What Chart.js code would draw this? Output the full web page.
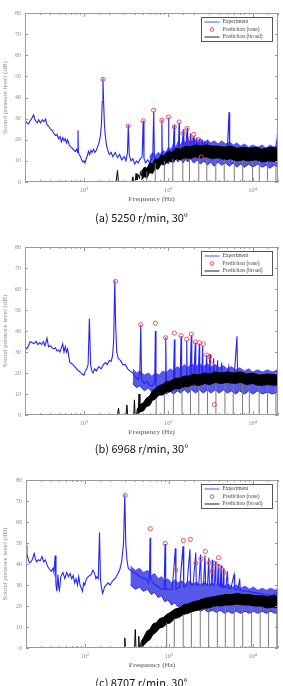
<!DOCTYPE html>
<html>
<head>
<meta charset="utf-8">
<script src="https://cdn.jsdelivr.net/npm/chart.js@4"></script>
<style>
  body { margin: 0; width: 283px; height: 686px; background: #fff; position: relative; overflow: hidden; }
  .panel { position: absolute; left: 0; width: 283px; }
  .cap { position: absolute; left: 0; width: 283px; text-align: center; font: 11px "Noto Sans CJK KR", sans-serif; color: #111; line-height: 16px; }
</style>
</head>
<body>
<div class="panel" style="top:0;height:228px"><canvas id="chartA"></canvas></div>
<div class="cap" style="top:209px">(a) 5250 r/min, 30°</div>
<div class="panel" style="top:228px;height:228px"><canvas id="chartB"></canvas></div>
<div class="cap" style="top:440px">(b) 6968 r/min, 30°</div>
<div class="panel" style="top:456px;height:230px"><canvas id="chartC"></canvas></div>
<div class="cap" style="top:674px">(c) 8707 r/min, 30°</div>
<script>
// tick labels
const xTickLabels = { 100: '10²', 1000: '10³', 10000: '10⁴' };

// (a) 5250 r/min -- [Hz, dB]
const expA = [[20,29.5],[21,28],[22,27.5],[23,29],[24,30],[25.3,31.8],[26.5,29],[28,28],[29,29.5],[30.5,28],[32,29.5],[33.5,28.5],[35,29.8],[36.5,27],[38,26.5],[40,25],[42,24.5],[44,23],[46,22],[48,22.5],[50,20.5],[52,21.5],[54,19],[56,21],[58,19.5],[60,20.5],[62,18.5],[64,20],[67,17.5],[70,16.5],[73,16],[76,15],[79,14.5],[82,15.5],[84,14],[85,24.5],[86,14],[88,13],[91,12],[94,10.5],[97,9.5],[100,10],[103,9],[106,11],[110,12.5],[113,14.5],[117,13],[121,15],[125,14],[130,15.5],[135,14],[140,15],[146,17],[152,19],[157,22],[161,27],[165,38],[168,49],[171,38],[175,27],[180,21],[186,17],[192,15],[200,13],[210,14],[220,12],[235,14],[250,11.5],[265,13],[280,10.5],[300,12],[315,10],[328,14],[336,27],[344,13],[360,10],[380,11],[400,8.5],[420,10],[440,9],[465,11],[490,12],[504,29],[515,11],[540,9],[570,10.5],[600,9],[630,11],[655,13],[672,33.5],[685,12],[720,10],[760,11],[800,12],[830,14],[840,29.5],[850,12],[900,13],[950,14],[1000,15],[1008,30.5],[1016,14],[1080,15],[1140,15],[1176,27],[1190,15],[1260,16],[1320,16],[1344,28],[1360,16],[1450,16],[1512,25],[1530,16],[1600,16],[1680,25.5],[1700,16],[1780,16],[1848,23],[1870,16],[1950,16],[2016,22],[2040,16],[2100,16],[2184,21],[2210,15.5],[2300,16],[2352,20.5],[2380,15.5],[2450,15],[2530,20],[2560,15],[2650,15],[2720,19.5],[2750,15],[2850,15],[2930,19],[2960,15],[3100,15],[3300,14.5],[3500,14.5],[3800,14],[4200,14],[4600,14],[5000,14],[5250,33],[5350,14],[6000,13.5],[7000,13],[8000,13],[9000,13],[10000,13],[12000,13],[14000,12.5],[16000,12.5],[18000,13],[19500,20],[20000,27]];
const expLowA = [[600,8],[650,6],[700,9],[760,7],[820,10],[870,8],[940,10],[1000,8.5],[1080,11],[1150,9],[1230,11],[1300,9.5],[1400,11],[1500,9],[1600,11],[1700,9.5],[1850,11],[2000,9],[2200,10.5],[2400,8.5],[2650,10],[2900,8],[3200,9.5],[3500,7.5],[3900,9.5],[4300,8],[4800,9],[5300,7.5],[5900,9],[6500,7],[7200,8.5],[8000,7],[9000,8.5],[10000,7],[11500,8.5],[13000,7],[14500,8],[16000,6.5],[18000,8],[20000,7]];
const expHighA = [[600,12],[650,14],[700,12.5],[760,14],[820,13],[870,15],[940,14],[1000,16.5],[1080,15.5],[1150,18],[1230,16.5],[1300,19],[1400,17.5],[1500,20],[1600,18.5],[1700,20.5],[1850,19],[2000,21],[2200,19],[2400,20.5],[2650,18.5],[2900,20],[3200,18.5],[3500,19.5],[3900,18],[4300,19.5],[4800,18],[5300,19],[5900,17.5],[6500,18.5],[7200,17],[8000,18],[9000,16.5],[10000,17.5],[11500,16.5],[13000,17.5],[14500,16],[16000,17.5],[18000,16.5],[20000,18]];
const broadA = [[240,0],[250,5.5],[256,0],[370,0],[380,2.5],[388,0],[405,0],[415,4],[425,1],[440,3.5],[455,1.5],[470,5],[485,3],[500,4]];
const broadLowA = [[480,1],[520,2.5],[560,2],[600,4.5],[650,4],[700,6.5],[760,6],[820,8.5],[900,8],[1000,10],[1100,9.5],[1250,11],[1400,10.5],[1600,11.5],[1800,11],[2100,12],[2400,11],[2800,12],[3300,11],[3900,11.5],[4600,10.5],[5500,11],[6500,10],[7800,10.5],[9000,10],[11000,10.5],[13000,9.5],[16000,10],[20000,9.5]];
const broadHighA = [[480,5],[520,7],[560,6.5],[600,9],[650,8.5],[700,11],[760,10.5],[820,12.5],[900,12.5],[1000,14.5],[1100,14],[1250,16],[1400,15.5],[1600,17],[1800,16.5],[2100,17.5],[2400,17],[2800,17.5],[3300,17],[3900,17],[4600,16.5],[5500,17],[6500,16],[7800,16.5],[9000,16],[11000,16.5],[13000,15.5],[16000,16.5],[20000,16]];
const dipsA = [[556,5],[700,9],[898,10],[1131,11],[1487,11],[1783,11],[2298,11],[2860,11],[3661,11],[4608,11],[6057,10],[7630,10],[9998,10],[12000,10],[15000,10],[18900,10]];
const toneA = [[168,48.6],[336,26.5],[504,29],[670,34],[840,29.2],[1005,30.7],[1180,26.1],[1345,28.4],[1500,23],[1670,25.3],[1830,20.6],[2005,22.5],[2310,20],[2460,11.8]];

// (b) 6968 r/min
const expB = [[20,32.5],[21,31.5],[22,33],[23,35],[24,34.5],[25.5,34],[27,35],[28.5,33.5],[30,34.5],[31.5,33.5],[33,35],[34.5,33],[36.5,36.5],[38,32.5],[40,33],[42,32],[44,31.5],[46,32],[48,30.5],[50,31],[52,30],[54,32],[56,34],[58,30],[60,32.5],[62,30],[64,31.5],[66,28],[68,25],[71,24.5],[74,24],[78,23],[82,22],[86,21],[90,20.5],[95,19.5],[100,19],[104,21],[108,22],[112,24],[116,46],[120,24],[124,21],[128,20],[134,22],[140,21],[150,23],[160,22],[170,24],[180,25],[190,24],[200,26],[210,25.5],[218,28],[225,35],[232,64],[238,42],[245,30],[255,27],[270,26],[290,24],[310,24],[330,22],[350,21],[380,20],[410,18],[440,17],[460,20],[472,43],[482,17],[520,15],[560,16],[600,14],[650,14],[690,16],[703,40],[715,14],[780,13],[850,14],[915,15],[933,37],[950,14],[1050,15],[1150,15],[1181,36],[1200,15],[1300,16],[1380,16],[1417,37.5],[1440,16],[1550,16],[1640,16],[1655,35.5],[1680,16],[1800,16],[1877,38],[1900,16],[2000,16],[2093,34.5],[2120,16],[2250,16],[2336,34],[2360,16],[2480,16],[2559,33],[2590,16],[2750,16],[2855,28.5],[2880,16],[3000,16],[3126,29],[3160,16],[3350,16],[3450,27],[3500,16],[3700,16],[3850,26],[3900,16],[4100,16],[4300,25],[4350,16],[4800,16],[5200,23],[5300,16],[6000,16],[6520,37.5],[6650,16],[7500,16],[9000,16],[11000,15.5],[14000,16],[17000,16],[19500,20],[20000,25.5]];
const expLowB = [[380,15],[420,13],[460,14],[520,11.5],[580,13],[640,11],[700,12],[780,10],[860,11.5],[950,10],[1050,11.5],[1150,10],[1280,11.5],[1400,10.5],[1550,12],[1700,10.5],[1900,12],[2100,10.5],[2350,12],[2600,10.5],[2900,12],[3200,10.5],[3600,12],[4000,10.5],[4500,12],[5000,10.5],[5600,11.5],[6300,10],[7000,11.5],[8000,10],[9000,11.5],[10000,10],[11500,11.5],[13000,10],[15000,11],[17000,10],[20000,11]];
const expHighB = [[380,22],[420,20],[460,21],[520,19],[580,20],[640,18.5],[700,20],[780,19],[860,21],[950,20],[1050,22],[1150,21],[1280,23],[1400,22],[1550,24],[1700,22.5],[1900,24.5],[2100,23],[2350,24.5],[2600,23],[2900,24.5],[3200,23],[3600,24],[4000,22.5],[4500,23.5],[5000,22],[5600,23],[6300,21.5],[7000,22.5],[8000,21],[9000,22],[10000,20.5],[11500,21.5],[13000,20.5],[15000,21.5],[17000,20.5],[20000,21.5]];
const broadB = [[250,0],[257,3.2],[262,0],[315,0],[323,4.8],[330,0],[390,0],[397,7.2],[404,0],[420,0],[430,3],[440,1],[450,10],[460,2],[470,5],[480,1.5],[500,4]];
const broadLowB = [[430,0.5],[470,1.5],[510,2],[550,4],[600,4.5],[650,7],[700,7.5],[780,9.5],[860,9.5],[950,11],[1050,11],[1200,12.5],[1350,12.5],[1550,13.5],[1750,13.5],[2000,14.5],[2300,14],[2700,15],[3100,14.5],[3600,15.5],[4200,15],[5000,15.5],[6000,15],[7200,15.5],[8500,14.5],[10000,15],[12000,14],[15000,14.5],[20000,14]];
const broadHighB = [[430,3],[470,5],[510,6],[550,8],[600,9],[650,11.5],[700,12.5],[780,14],[860,14.5],[950,16],[1050,16],[1200,17.5],[1350,17.5],[1550,18.5],[1750,18.5],[2000,19.5],[2300,19],[2700,20],[3100,19.5],[3600,20.5],[4200,20],[5000,20.5],[6000,20],[7200,20.5],[8500,19.5],[10000,20],[12000,19],[15000,19.5],[20000,19]];
const dipsB = [[718,8],[899,10],[1150,12],[1455,13],[1832,14],[2298,14],[2920,14],[3672,15],[4700,15],[5890,15],[7600,15],[9140,14],[11950,14],[15000,14],[18900,14]];
const toneB = [[237,63.6],[472,43],[703,43.7],[933,36.8],[1181,39],[1417,37.8],[1655,36.1],[1877,38.5],[2093,34.8],[2336,34.4],[2600,33.8],[2855,28.5],[3100,27.8],[3273,24.2],[3516,5]];

// (c) 8707 r/min
const expC = [[20,49],[20.5,45],[21,43],[22,40.5],[23,41],[24,42.5],[25,45],[26,42],[27,41],[28,42],[29.5,41.5],[31,43.5],[32.5,41],[34,42],[36,39],[38,37.5],[40,36.5],[42,38],[43,36],[44.5,44],[45.5,30],[46.5,27],[48,35],[49,29],[50,27.5],[52,34],[55,36],[58,33],[61,36],[64,34],[67,35.5],[70,33],[73,34.5],[76,31],[79,33],[82,30],[85,34],[88,30],[91,28.5],[94,27],[97,31],[100,30],[105,33],[110,34],[115,34.5],[120,35],[125,37],[130,36],[136,33],[140,34],[145,33],[150,55],[154,33],[158,29],[163,26],[167,27],[172,29],[180,30],[190,31],[200,30],[215,32],[230,33],[245,35],[260,37],[275,41],[290,50],[300,73],[308,50],[318,42],[330,38],[350,37],[380,36],[420,35],[460,34],[500,33],[540,33],[575,31],[590,35],[600,52.5],[610,33],[650,31],[700,30],[760,29],[820,28],[880,28],[905,49.5],[920,28],[1000,28],[1100,28],[1200,47.5],[1220,28],[1350,29],[1480,48.5],[1510,29],[1650,30],[1790,47],[1820,30],[1950,30],[2100,45.5],[2130,30],[2280,30],[2400,44.5],[2440,30],[2600,30],[2700,44],[2750,30],[2900,30],[3000,43],[3050,30],[3200,30],[3300,42],[3350,30],[3500,30],[3600,41],[3650,30],[3800,30],[3900,40],[3950,29.5],[4100,29.5],[4200,39],[4250,29],[4400,29],[4500,38],[4550,29],[4800,29],[5000,36.5],[5100,28.5],[5500,28.5],[6000,35],[6100,28],[6700,28],[7000,33],[7100,27.5],[8000,27],[9000,27],[10000,26.5],[12000,26],[14000,25.5],[17000,25],[19500,26],[20000,28]];
const expLowC = [[350,30],[400,28],[450,29],[500,27],[560,28],[620,25.5],[680,26.5],[750,24],[820,25],[900,22],[980,23],[1080,20.5],[1180,21.5],[1300,19.5],[1430,20.5],[1580,18.5],[1750,19.5],[1950,18],[2150,19],[2400,17.5],[2650,18.5],[2950,17],[3300,18],[3700,17],[4100,18],[4600,16.5],[5100,17.5],[5700,16.5],[6400,17.5],[7200,16.5],[8100,17.5],[9100,16.5],[10200,17.5],[11500,16.5],[13000,17.5],[14500,16.5],[16500,17.5],[18500,16.5],[20000,17]];
const expHighC = [[350,39],[400,37],[450,38],[500,36],[560,37],[620,34.5],[680,35.5],[750,33],[820,34],[900,32],[980,33],[1080,31],[1180,32.5],[1300,31],[1430,32],[1580,30.5],[1750,32],[1950,30.5],[2150,31.5],[2400,30],[2650,31.5],[2950,30],[3300,31],[3700,29.5],[4100,31],[4600,29.5],[5100,30.5],[5700,29],[6400,30],[7200,28.5],[8100,29.5],[9100,28],[10200,29],[11500,27.5],[13000,28.5],[14500,27.5],[16500,28.5],[18500,27.5],[20000,28.5]];
const broadC = [[295,0],[300,4.8],[306,0],[392,0],[400,8.8],[408,0],[432,0],[440,5.6],[448,0],[460,1],[470,3]];
const broadLowC = [[470,0.5],[510,1.5],[550,3],[600,4],[650,6.5],[710,7.5],[780,9.5],[860,10],[950,11.5],[1050,12],[1180,14],[1320,14.5],[1500,16],[1700,16.5],[1950,17.5],[2250,18],[2600,19],[3000,19],[3500,20],[4100,20],[4800,20.5],[5600,20.5],[6500,21],[7600,20.5],[9000,20.5],[10500,20],[12500,20],[15000,19],[17500,19.5],[20000,19]];
const broadHighC = [[470,3],[510,5.5],[550,8],[600,9],[650,11.5],[710,12],[780,14],[860,14.5],[950,16],[1050,17],[1180,18.5],[1320,19],[1500,20.5],[1700,21],[1950,22],[2250,22.5],[2600,23.5],[3000,24],[3500,24.5],[4100,25],[4800,25.5],[5600,25.5],[6500,26],[7600,25.5],[9000,25.5],[10500,25],[12500,25],[15000,24.5],[17500,25],[20000,24.5]];
const dipsC = [[945,12],[1165,14],[1487,16],[1862,17],[2375,18],[2987,19],[3795,20],[4723,20],[6020,20],[7600,20],[9700,20],[12270,19],[15400,19],[19400,19]];
const toneC = [[303,72.7],[604,56.8],[909,49.8],[1214,37.1],[1496,51.2],[1810,51.7],[2114,40.3],[2424,42.5],[2728,46],[3016,40.6],[3297,36.6],[3579,40.3],[3918,43],[4139,38.5],[4540,35.8]];

function pts(arr) { return arr.map(p => ({ x: p[0], y: p[1] })); }
function dipPts(arr) {
  const out = [];
  arr.forEach(p => { out.push({ x: p[0], y: 0 }, { x: p[0], y: p[1] }, { x: p[0], y: null }); });
  return out;
}

// frame, inward ticks and the boxed legend
const framePlugin = {
  id: 'frame',
  afterDraw(chart) {
    const { ctx, chartArea: a, scales: { x, y } } = chart;
    ctx.save();
    ctx.strokeStyle = '#9a9a9a';
    ctx.lineWidth = 1;
    ctx.strokeRect(a.left + 0.5, a.top + 0.5, a.width - 1, a.height - 1);
    ctx.beginPath();
    x.ticks.forEach(t => {
      const px = Math.round(x.getPixelForValue(t.value)) + 0.5;
      const len = xTickLabels[t.value] ? 4 : 2;
      ctx.moveTo(px, a.bottom); ctx.lineTo(px, a.bottom - len);
      ctx.moveTo(px, a.top); ctx.lineTo(px, a.top + len);
    });
    y.ticks.forEach(t => {
      const py = Math.round(y.getPixelForValue(t.value)) + 0.5;
      ctx.moveTo(a.left, py); ctx.lineTo(a.left + 3, py);
      ctx.moveTo(a.right, py); ctx.lineTo(a.right - 3, py);
    });
    ctx.stroke();

    // legend
    const bx = Math.round(a.right - 77) + 0.5, by = Math.round(a.top + 4) + 0.5;
    ctx.fillStyle = '#fff';
    ctx.fillRect(bx, by, 71, 24);
    ctx.strokeStyle = '#555';
    ctx.strokeRect(bx, by, 71, 24);
    ctx.font = '5.5px "Liberation Serif", serif';
    ctx.textBaseline = 'middle';
    ctx.fillStyle = '#444';
    const rows = [[4.5, 'Experiment'], [12, 'Prediction (tone)'], [19.5, 'Prediction (broad)']];
    rows.forEach((r, i) => {
      const ry = by + r[0];
      if (i === 0) { ctx.strokeStyle = '#5050ff'; ctx.beginPath(); ctx.moveTo(bx + 3, ry); ctx.lineTo(bx + 18, ry); ctx.stroke(); }
      if (i === 1) { ctx.strokeStyle = '#e0505a'; ctx.beginPath(); ctx.arc(bx + 10.5, ry, 1.8, 0, Math.PI * 2); ctx.stroke(); }
      if (i === 2) { ctx.strokeStyle = '#222'; ctx.beginPath(); ctx.moveTo(bx + 3, ry); ctx.lineTo(bx + 18, ry); ctx.stroke(); }
      ctx.fillText(r[1], bx + 21, ry);
    });
    ctx.restore();
  }
};

function makeChart(id, box, s) {
  return new Chart(document.getElementById(id), {
    type: 'line',
    data: {
      datasets: [
        { label: 'Prediction (tone)', data: pts(s.tone), showLine: false, pointRadius: 2.1, pointBorderWidth: 1,
          pointBorderColor: '#e8505c', pointBackgroundColor: 'rgba(0,0,0,0)' },
        { label: 'dips', data: dipPts(s.dips), borderColor: '#7a7a7a', borderWidth: 1, pointRadius: 0, spanGaps: false },
        { label: 'Prediction (broad)', data: pts(s.broad), borderColor: '#000', borderWidth: 1, pointRadius: 0 },
        { label: 'broad high', data: pts(s.broadHigh), borderColor: '#000', borderWidth: 1, pointRadius: 0,
          fill: 4, backgroundColor: '#000' },
        { label: 'broad low', data: pts(s.broadLow), borderColor: '#000', borderWidth: 1, pointRadius: 0 },
        { label: 'Experiment', data: pts(s.exp), borderColor: '#2626f0', borderWidth: 1.1, pointRadius: 0 },
        { label: 'exp high', data: pts(s.expHigh), borderColor: 'rgba(70,70,245,0.8)', borderWidth: 1, pointRadius: 0,
          fill: 7, backgroundColor: 'rgba(40,40,225,0.78)' },
        { label: 'exp low', data: pts(s.expLow), borderColor: '#2a2ae8', borderWidth: 1, pointRadius: 0 }
      ]
    },
    options: {
      responsive: true,
      maintainAspectRatio: false,
      animation: false,
      layout: { padding: { top: box.top, right: 5, left: 0, bottom: box.padBottom } },
      plugins: { legend: { display: false }, tooltip: { enabled: false } },
      elements: { line: { tension: 0 } },
      scales: {
        x: {
          type: 'logarithmic', min: 20, max: 20000,
          grid: { display: false, drawTicks: false }, border: { display: false },
          afterFit(scale) { scale.height = 21; },
          ticks: {
            autoSkip: false, maxRotation: 0, padding: 4,
            color: '#8a8a8a', font: { family: '"Liberation Serif", serif', size: 6.5 },
            callback: v => xTickLabels[v] || ''
          },
          title: { display: true, text: 'Frequency (Hz)', color: '#858585', padding: 0,
            font: { family: '"Liberation Serif", serif', size: 7, weight: 'bold' } }
        },
        y: {
          min: 0, max: 80,
          grid: { display: false, drawTicks: false }, border: { display: false },
          afterFit(scale) { scale.width = box.left; },
          ticks: { stepSize: 10, padding: 4, color: '#8a8a8a', font: { family: '"Liberation Serif", serif', size: 6 } },
          title: { display: true, text: 'Sound pressure level (dB)', color: '#8f8f8f', padding: { top: 1, bottom: 0 },
            font: { family: '"Liberation Serif", serif', size: 7 } }
        }
      }
    },
    plugins: [framePlugin]
  });
}

makeChart('chartA', { top: 13, padBottom: 25, left: 25 },
  { exp: expA, expLow: expLowA, expHigh: expHighA, broad: broadA, broadLow: broadLowA, broadHigh: broadHighA, dips: dipsA, tone: toneA });
makeChart('chartB', { top: 19, padBottom: 20, left: 25 },
  { exp: expB, expLow: expLowB, expHigh: expHighB, broad: broadB, broadLow: broadLowB, broadHigh: broadHighB, dips: dipsB, tone: toneB });
makeChart('chartC', { top: 24, padBottom: 17, left: 26 },
  { exp: expC, expLow: expLowC, expHigh: expHighC, broad: broadC, broadLow: broadLowC, broadHigh: broadHighC, dips: dipsC, tone: toneC });
</script>
</body>
</html>
